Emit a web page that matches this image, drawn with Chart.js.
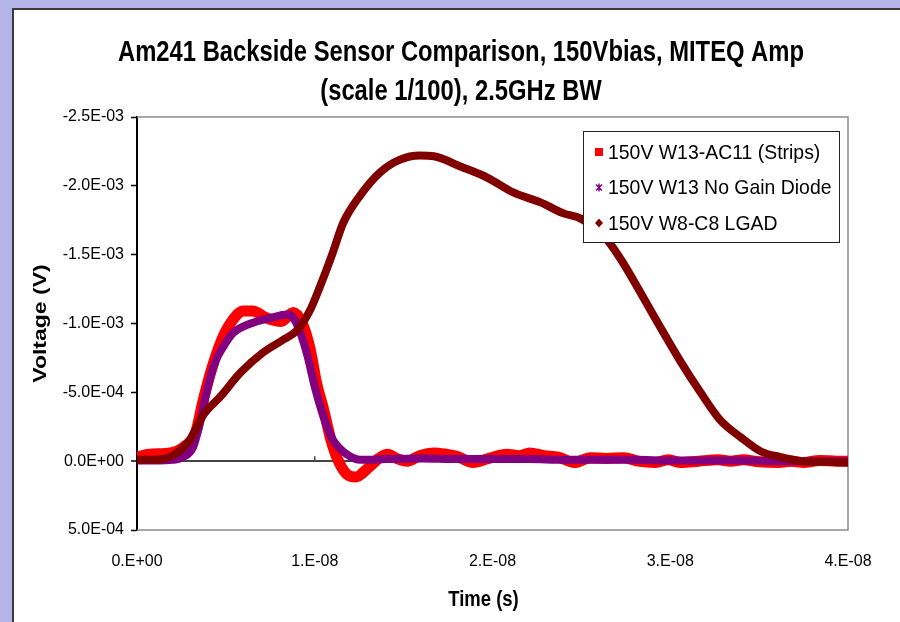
<!DOCTYPE html>
<html lang="en">
<head>
<meta charset="UTF-8">
<title>Am241 Backside Sensor Comparison</title>
<style>
    html, body {
        margin: 0;
        padding: 0;
        width: 900px;
        height: 622px;
        overflow: hidden;
        background: #b4b4e8;
    }
    .frame {
        position: absolute;
        left: 12px;
        top: 8px;
        width: 888px;
        height: 614px;
        box-sizing: border-box;
        background: #fff;
        border-left: 2px solid #3a3a3a;
        border-top: 2px solid #3a3a3a;
    }
    .chart-container {
        position: absolute;
        left: 14px;
        top: 10px;
        width: 886px;
        height: 612px;
    }
</style>
<script src="https://cdn.jsdelivr.net/npm/chart.js"></script>
</head>
<body>
<div class="frame"></div>
<div class="chart-container">
    <canvas id="pulseChart"></canvas>
</div>

<script>
// Title and legend text
const titleLines = ['Am241 Backside Sensor Comparison, 150Vbias, MITEQ Amp', '(scale 1/100), 2.5GHz BW'];
const seriesNames = ['150V W13-AC11 (Strips)', '150V W13 No Gain Diode', '150V W8-C8 LGAD'];
const xAxisTitle = 'Time (s)';
const yAxisTitle = 'Voltage (V)';

// Axis ticks
const xTickValues = [0, 1e-8, 2e-8, 3e-8, 4e-8];
const xTickLabels = ['0.E+00', '1.E-08', '2.E-08', '3.E-08', '4.E-08'];
const yTickValues = [-2.5e-3, -2.0e-3, -1.5e-3, -1.0e-3, -5.0e-4, 0, 5.0e-4];
const yTickLabels = ['-2.5E-03', '-2.0E-03', '-1.5E-03', '-1.0E-03', '-5.0E-04', '0.0E+00', '5.0E-04'];

// Strips: time (ns) and voltage (mV)
const stripsTime = [0, 0.7, 1.9, 2.6, 3.3, 3.7, 4.2, 4.7, 5.2, 6.0, 6.5, 7.3, 8.1, 8.8, 9.3, 9.75, 10.1, 10.5, 10.9, 11.3,
    11.8, 12.3, 13.0, 13.6, 14.1, 14.6, 15.2, 15.9, 16.7, 17.4, 18.0, 18.9, 19.8, 20.8, 21.5, 22.1, 22.9, 23.7, 24.6,
    25.5, 26.4, 27.4, 28.2, 29.1, 29.9, 30.6, 31.6, 32.7, 33.4, 34.1, 35.0, 36.1, 36.8, 37.5, 38.4, 39.4, 40.0];
const stripsVolt = [-0.03, -0.05, -0.06, -0.10, -0.21, -0.43, -0.67, -0.86, -0.99, -1.09, -1.09, -1.04, -1.015, -1.08,
    -1.00, -0.81, -0.57, -0.375, -0.16, -0.01, 0.095, 0.115, 0.05, -0.02, -0.05, -0.02, 0.0, -0.04, -0.06, -0.05,
    -0.035, 0.01, -0.02, -0.05, -0.04, -0.06, -0.04, -0.03, 0.01, -0.025, -0.02, -0.025, 0.0, 0.01, -0.01, 0.01, 0.0,
    -0.01, 0.0, -0.01, 0.005, 0.01, 0.0, 0.01, -0.005, 0.0, 0.0];

// No gain diode
const diodeTime = [0, 1.0, 2.0, 2.6, 3.15, 3.55, 3.95, 4.4, 4.85, 5.4, 6.4, 7.5, 8.45, 8.8, 9.2, 9.6, 10.0, 10.5, 11.0,
    11.8, 12.6, 14, 16, 18, 20, 22, 24, 26, 28, 30, 32, 34, 36, 38, 40];
const diodeVolt = [-0.005, -0.005, -0.01, -0.03, -0.10, -0.28, -0.52, -0.72, -0.83, -0.93, -1.00, -1.04, -1.065, -1.04,
    -0.93, -0.76, -0.54, -0.32, -0.16, -0.05, -0.01, -0.015, -0.02, -0.015, -0.015, -0.015, -0.01, -0.01, -0.01,
    -0.005, -0.005, -0.005, 0.0, 0.0, 0.0];

// LGAD
const lgadTime = [0, 1.0, 2.0, 3.0, 3.7, 4.7, 5.8, 7.1, 8.2, 9.0, 9.75, 10.3, 11.0, 11.6, 12.5, 13.7, 14.8, 15.9, 16.7,
    18.2, 19.7, 21.2, 22.7, 24.0, 25.0, 26.3, 27.2, 28.3, 29.5, 30.6, 31.7, 32.8, 34.0, 35.1, 36.2, 37.4, 38.5, 40.0];
const lgadVolt = [-0.01, -0.01, -0.04, -0.16, -0.33, -0.47, -0.64, -0.79, -0.88, -0.95, -1.10, -1.27, -1.51, -1.73,
    -1.92, -2.10, -2.19, -2.22, -2.215, -2.14, -2.06, -1.95, -1.88, -1.80, -1.76, -1.63, -1.47, -1.23, -0.96, -0.72,
    -0.50, -0.30, -0.17, -0.07, -0.03, 0.0, 0.005, 0.01];

const seriesColors = ['#ff0000', '#800080', '#800000'];
const markerShapes = ['square', 'star', 'diamond'];

const BASE_FONT = '"Liberation Sans", Arial, sans-serif';

function toPoints(times, volts) {
    return times.map((t, i) => ({ x: t / 1e9, y: volts[i] / 1e3 }));
}

function drawMarker(ctx, shape, x, y, color) {
    ctx.fillStyle = color;
    ctx.strokeStyle = color;
    if (shape === 'square') {
        ctx.fillRect(x - 4, y - 4, 8, 8);
    } else if (shape === 'diamond') {
        ctx.beginPath();
        ctx.moveTo(x, y - 4.5);
        ctx.lineTo(x + 4, y);
        ctx.lineTo(x, y + 4.5);
        ctx.lineTo(x - 4, y);
        ctx.closePath();
        ctx.fill();
    } else {
        ctx.lineWidth = 1.5;
        ctx.beginPath();
        ctx.moveTo(x - 3, y - 3); ctx.lineTo(x + 3, y + 3);
        ctx.moveTo(x + 3, y - 3); ctx.lineTo(x - 3, y + 3);
        ctx.moveTo(x, y - 4); ctx.lineTo(x, y + 4);
        ctx.stroke();
    }
}

// narrow text: the sheet's Arial is squeezed horizontally
function drawSqueezed(ctx, text, x, y, font, squeeze, opts) {
    const o = opts || {};
    ctx.save();
    ctx.translate(x, y);
    if (o.rotate) {
        ctx.rotate(-Math.PI / 2);
        ctx.scale(1, squeeze);
    } else {
        ctx.scale(squeeze, 1);
    }
    ctx.font = font;
    ctx.fillStyle = '#000';
    ctx.textAlign = o.align || 'center';
    ctx.textBaseline = 'middle';
    ctx.fillText(text, 0, 0);
    ctx.restore();
}

// plot frame plus the small ticks sitting on the zero line
const plotFrame = {
    id: 'plotFrame',
    beforeDatasetsDraw(chart) {
        const { ctx, chartArea: a, scales } = chart;
        ctx.save();
        ctx.strokeStyle = '#8c8c8c';
        ctx.lineWidth = 1.5;
        ctx.beginPath();
        ctx.moveTo(a.left, a.top);
        ctx.lineTo(a.right, a.top);
        ctx.lineTo(a.right, a.bottom);
        ctx.lineTo(a.left, a.bottom);
        ctx.stroke();

        const y0 = scales.y.getPixelForValue(0);
        ctx.strokeStyle = '#444';
        ctx.lineWidth = 1.5;
        ctx.beginPath();
        xTickValues.slice(1, -1).forEach(v => {
            const x = scales.x.getPixelForValue(v);
            ctx.moveTo(x, y0);
            ctx.lineTo(x, y0 - 5);
        });
        ctx.stroke();
        ctx.restore();
    }
};

// chart title and axis titles
const titles = {
    id: 'titles',
    afterDraw(chart) {
        const { ctx, chartArea: a } = chart;
        const cx = chart.width / 2 + 4;
        const bold = size => 'bold ' + size + 'px ' + BASE_FONT;
        drawSqueezed(ctx, titleLines[0], cx, 43, bold(29), 0.82);
        drawSqueezed(ctx, titleLines[1], cx, 82, bold(29), 0.82);
        drawSqueezed(ctx, xAxisTitle, (a.left + a.right) / 2 - 9, 590, bold(22), 0.84);
        drawSqueezed(ctx, yAxisTitle, 27, (a.top + a.bottom) / 2, bold(23), 0.83, { rotate: true });
    }
};

// boxed legend in the upper right of the plot
const boxLegend = {
    id: 'boxLegend',
    afterDatasetsDraw(chart) {
        const { ctx, chartArea: a } = chart;
        const w = 256, h = 111;
        const x0 = a.right - 9 - w;
        const y0 = a.top + 14;
        ctx.save();
        ctx.fillStyle = '#fff';
        ctx.fillRect(x0, y0, w, h);
        ctx.strokeStyle = '#222';
        ctx.lineWidth = 1;
        ctx.strokeRect(x0 + 0.5, y0 + 0.5, w, h);
        chart.data.datasets.forEach((ds, i) => {
            const cy = y0 + 21 + i * 35.5;
            drawMarker(ctx, markerShapes[i], x0 + 16, cy, seriesColors[i]);
            drawSqueezed(ctx, ds.label, x0 + 25, cy + 1, '21px ' + BASE_FONT, 0.925, { align: 'left' });
        });
        ctx.restore();
    }
};

const ctx = document.getElementById('pulseChart').getContext('2d');

const data = {
    datasets: [
        {
            label: seriesNames[0],
            data: toPoints(stripsTime, stripsVolt),
            borderColor: seriesColors[0],
            borderWidth: 11,
            order: 3
        },
        {
            label: seriesNames[1],
            data: toPoints(diodeTime, diodeVolt),
            borderColor: seriesColors[1],
            borderWidth: 8,
            order: 2
        },
        {
            label: seriesNames[2],
            data: toPoints(lgadTime, lgadVolt),
            borderColor: seriesColors[2],
            borderWidth: 8,
            order: 1
        }
    ]
};
data.datasets.forEach(ds => {
    ds.pointRadius = 0;
    ds.fill = false;
    ds.cubicInterpolationMode = 'monotone';
    ds.borderJoinStyle = 'round';
    ds.borderCapStyle = 'round';
});

const options = {
    responsive: true,
    maintainAspectRatio: false,
    animation: false,
    layout: { padding: { left: 0, right: 52, top: 107, bottom: 0 } },
    plugins: {
        legend: { display: false },
        tooltip: { enabled: false },
        title: { display: false }
    },
    scales: {
        x: {
            type: 'linear',
            min: 0,
            max: 4e-8,
            afterBuildTicks: s => { s.ticks = xTickValues.map(v => ({ value: v })); },
            afterFit: s => { s.height = 92; },
            grid: { display: false, drawTicks: false },
            border: { display: false },
            ticks: {
                color: '#000',
                padding: 22,
                maxRotation: 0,
                font: { family: BASE_FONT, size: 16 },
                callback: (v, i) => xTickLabels[i]
            }
        },
        y: {
            type: 'linear',
            reverse: true,
            min: -2.5e-3,
            max: 5e-4,
            afterBuildTicks: s => { s.ticks = yTickValues.map(v => ({ value: v })); },
            afterFit: s => { s.width = 123; },
            grid: {
                color: c => (c.tick && c.tick.value === 0 ? '#444' : 'rgba(0,0,0,0)'),
                lineWidth: c => (c.tick && c.tick.value === 0 ? 2 : 1),
                tickColor: '#000',
                tickLength: 6,
                tickWidth: 1.5
            },
            border: { display: true, color: '#000', width: 2 },
            ticks: {
                color: '#000',
                padding: 7,
                font: { family: BASE_FONT, size: 16 },
                callback: (v, i) => yTickLabels[i]
            }
        }
    }
};

const pulseChart = new Chart(ctx, {
    type: 'line',
    data: data,
    options: options,
    plugins: [plotFrame, boxLegend, titles]
});
</script>
</body>
</html>
